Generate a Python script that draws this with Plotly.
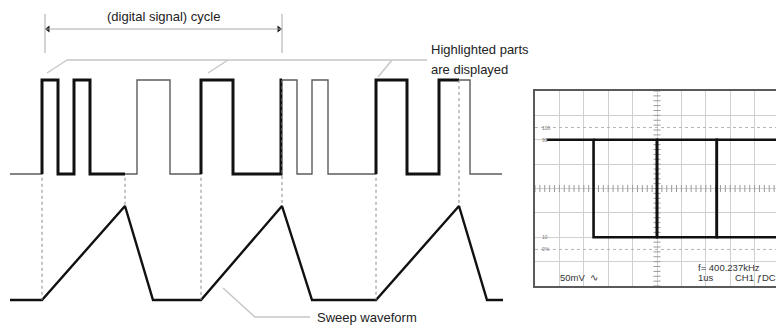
import plotly.graph_objects as go

# ---------------- timing diagram (time in arbitrary units) ----------------
# digital input: time span and toggle instants (starts low)
sig_t0, sig_t1 = 10, 502
sig_edges = [42, 58, 74, 90, 137, 170, 201, 233,
             281, 297, 312, 328, 376, 407, 439, 470]

# sweep generator: ramp start, ramp top, end of retrace
sweep_t0, sweep_t1 = 10, 503
sweep_start = [42, 201, 376]
sweep_peak = [125, 282, 459]
sweep_reset = [153, 312, 487]

# vertical offset of the digital trace above the sweep trace
sig_offset = 1.34

# ---------------- oscilloscope screen ----------------
# time in microseconds (1 us/div), level in percent of amplitude
scope_t0, scope_t1 = 0.48, 10.0
scope_edges = [2.4, 5.0, 7.45]
scope_high, scope_low = 90, 10
scope_ref_levels = [0, 100]
scope_level_labels = [(100, "100"), (90, "90"), (10, "10"), (0, "0%")]

FONT = "Liberation Sans, Arial, sans-serif"


def level_before(t):
    return sum(e < t for e in sig_edges) % 2


def level_at(t):
    return sum(e <= t for e in sig_edges) % 2


def step_points(ta, tb):
    lvl = level_before(ta)
    xs, ys = [ta], [lvl]
    for e in sig_edges:
        if ta <= e < tb:
            xs += [e, e]
            ys += [lvl, 1 - lvl]
            lvl = 1 - lvl
    xs.append(tb)
    ys.append(lvl)
    return xs, [y + sig_offset for y in ys]


fig = go.Figure()

# digital signal, full length (thin)
xs, ys = step_points(sig_t0, sig_t1)
fig.add_trace(go.Scatter(x=xs, y=ys, mode="lines",
                         line=dict(color="#5c5c5c", width=1.4),
                         hoverinfo="skip"))

# portions captured while the sweep runs (bold)
for a, b in zip(sweep_start, sweep_peak):
    xs, ys = step_points(a, b)
    fig.add_trace(go.Scatter(x=xs, y=ys, mode="lines",
                             line=dict(color="#111111", width=3),
                             hoverinfo="skip"))

# sweep waveform
sx, sy = [sweep_t0], [0]
for a, p, r in zip(sweep_start, sweep_peak, sweep_reset):
    sx += [a, p, r]
    sy += [0, 1, 0]
sx.append(sweep_t1)
sy.append(0)
fig.add_trace(go.Scatter(x=sx, y=sy, mode="lines",
                         line=dict(color="#111111", width=2.4),
                         hoverinfo="skip"))

# dotted guides linking sweep start / top to the digital signal
gx, gy = [], []
for t in sweep_start:
    lvl = level_before(t)
    gx += [t, t, None]
    gy += [sig_offset + lvl - 0.04, 0, None]
for t in sweep_peak:
    lvl = level_at(t)
    gx += [t, t, None]
    gy += [sig_offset + lvl - 0.04 * (1 - lvl), 1, None]
fig.add_trace(go.Scatter(x=gx, y=gy, mode="lines",
                         line=dict(color="#8a8a8a", width=1, dash="dot"),
                         hoverinfo="skip"))

# cycle dimension arrow
cyc_a, cyc_b = 45, 282
cyc_y = 2.883
for cx in (cyc_a, cyc_b):
    fig.add_shape(type="line", xref="x", yref="y", x0=cx, x1=cx,
                  y0=2.628, y1=3.043, line=dict(color="#a8a8a8", width=1))
fig.add_shape(type="line", xref="x", yref="y", x0=cyc_a, x1=cyc_b,
              y0=cyc_y, y1=cyc_y, line=dict(color="#a8a8a8", width=1))
fig.add_trace(go.Scatter(x=[cyc_a + 3, cyc_b - 3], y=[cyc_y, cyc_y],
                         mode="markers",
                         marker=dict(symbol=["triangle-left", "triangle-right"],
                                     size=6, color="#111111"),
                         hoverinfo="skip"))
fig.add_annotation(x=(cyc_a + cyc_b) / 2 - 0.5, y=3.021, xref="x", yref="y",
                   text="(digital signal) cycle", showarrow=False,
                   font=dict(family=FONT, size=13, color="#222222"))

# "highlighted parts" callout
call_col = "#c6c6c6"
call_y = 2.553
fig.add_shape(type="line", xref="x", yref="y", x0=67, x1=427,
              y0=call_y, y1=call_y, line=dict(color=call_col, width=1.4))
for (x0, y0, x1) in [(47, 2.415, 67), (208, 2.415, 228), (378, 2.372, 392)]:
    fig.add_shape(type="line", xref="x", yref="y", x0=x0, x1=x1,
                  y0=y0, y1=call_y, line=dict(color=call_col, width=1.4))
fig.add_annotation(x=429, y=2.66, xref="x", yref="y", text="Highlighted parts",
                   showarrow=False, xanchor="left",
                   font=dict(family=FONT, size=13, color="#222222"))
fig.add_annotation(x=429, y=2.457, xref="x", yref="y", text="are displayed",
                   showarrow=False, xanchor="left",
                   font=dict(family=FONT, size=13, color="#222222"))

# "sweep waveform" callout
fig.add_shape(type="path", xref="x", yref="y",
              path="M 223 0.128 L 255 -0.181 L 310 -0.181",
              line=dict(color=call_col, width=1.4))
fig.add_annotation(x=315, y=-0.181, xref="x", yref="y", text="Sweep waveform",
                   showarrow=False, xanchor="left",
                   font=dict(family=FONT, size=13, color="#222222"))

# ---------------- oscilloscope screen traces ----------------
# reference (0 % / 100 %) dotted lines
for lv in scope_ref_levels:
    fig.add_trace(go.Scatter(x=[0, 10], y=[lv, lv], mode="lines",
                             xaxis="x2", yaxis="y2",
                             line=dict(color="#b4b4b4", width=1, dash="3px,3px"),
                             hoverinfo="skip"))

# minor ticks on the centre cross
tick_y = [-30 + 4 * i for i in range(41)]
tick_x = [0.2 * i for i in range(50)]
fig.add_trace(go.Scatter(x=[5] * len(tick_y), y=tick_y, mode="markers",
                         xaxis="x2", yaxis="y2",
                         marker=dict(symbol="line-ew", size=5,
                                     line=dict(color="#9a9a9a", width=1)),
                         hoverinfo="skip"))
fig.add_trace(go.Scatter(x=tick_x, y=[50] * len(tick_x), mode="markers",
                         xaxis="x2", yaxis="y2",
                         marker=dict(symbol="line-ns", size=5,
                                     line=dict(color="#9a9a9a", width=1)),
                         hoverinfo="skip"))


def scope_phase(t_start, level_start):
    lvl = level_start
    xs, ys = [t_start], [lvl]
    for e in scope_edges:
        if e > t_start:
            nxt = scope_low if lvl == scope_high else scope_high
            xs += [e, e]
            ys += [lvl, nxt]
            lvl = nxt
    xs.append(scope_t1)
    ys.append(lvl)
    return xs, ys


# overlapping sweeps of the square wave (both phases)
for t_start in (scope_t0, scope_edges[0]):
    xs, ys = scope_phase(t_start, scope_high)
    fig.add_trace(go.Scatter(x=xs, y=ys, mode="lines",
                             xaxis="x2", yaxis="y2",
                             line=dict(color="#111111", width=2.6),
                             hoverinfo="skip"))

for lv, txt in scope_level_labels:
    fig.add_annotation(x=0.2, y=lv, xref="x2", yref="y2", text=txt,
                       showarrow=False, xanchor="left",
                       font=dict(family=FONT, size=5, color="#777777"))

scope_font = dict(family=FONT, size=9.5, color="#333333")
fig.add_annotation(x=0.95, y=-23.4, xref="x2", yref="y2", text="50mV  \u223f",
                   showarrow=False, xanchor="left", font=scope_font)
fig.add_annotation(x=6.6, y=-15.0, xref="x2", yref="y2", text="f= 400.237kHz",
                   showarrow=False, xanchor="left", font=scope_font)
fig.add_annotation(x=6.6, y=-23.4, xref="x2", yref="y2", text="1us",
                   showarrow=False, xanchor="left", font=scope_font)
fig.add_annotation(x=8.1, y=-23.4, xref="x2", yref="y2", text="CH1 \u0192DC",
                   showarrow=False, xanchor="left", font=scope_font)

fig.update_layout(
    width=776, height=328,
    margin=dict(l=0, r=0, t=0, b=0),
    paper_bgcolor="white", plot_bgcolor="white",
    showlegend=False,
    xaxis=dict(domain=[0, 1], range=[0, 776], visible=False),
    yaxis=dict(domain=[0, 1], range=[-0.2979, 3.1915], visible=False),
    xaxis2=dict(domain=[535 / 776, 1], range=[0, 241 / 24.4], anchor="y2",
                showgrid=True, gridcolor="#d0d0d0", gridwidth=1,
                tick0=0, dtick=1, showticklabels=False, ticks="",
                zeroline=False, showline=True, linecolor="#5a5a5a",
                linewidth=2, mirror=True),
    yaxis2=dict(domain=[1 - 286 / 328, 1 - 91 / 328], range=[-30, 130],
                anchor="x2", showgrid=True, gridcolor="#d0d0d0", gridwidth=1,
                tick0=-30, dtick=20, showticklabels=False, ticks="",
                zeroline=False, showline=True, linecolor="#5a5a5a",
                linewidth=2, mirror=False),
)

fig.write_html("out.html")
